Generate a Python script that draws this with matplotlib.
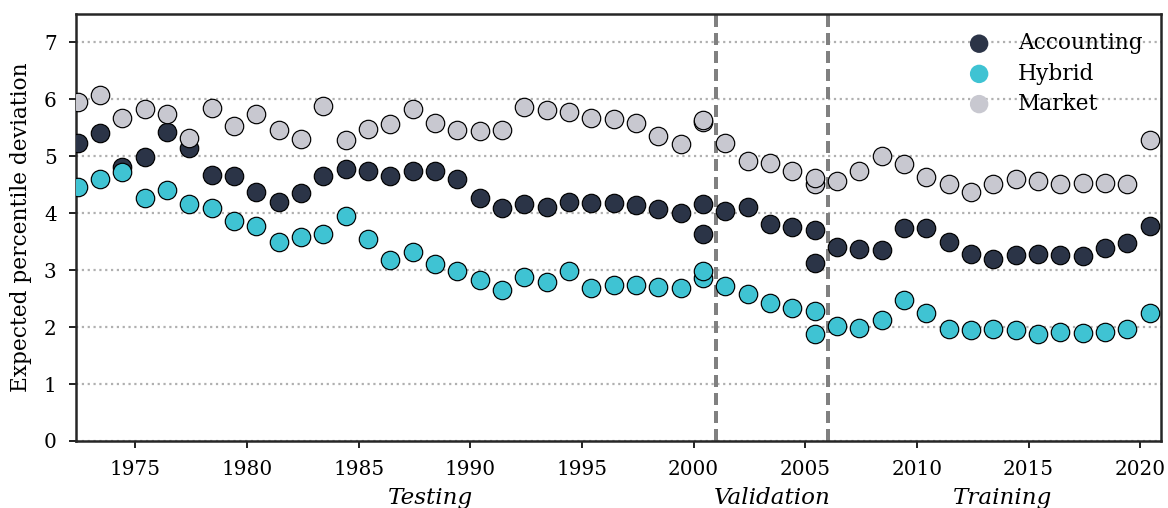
import matplotlib
matplotlib.use("Agg")
import matplotlib.pyplot as plt
import numpy as np

# ---- data ----
testing_years = list(range(1972, 2001))
validation_years = list(range(2000, 2006))
training_years = list(range(2005, 2021))
years = testing_years + validation_years + training_years

accounting = [5.23, 5.41, 4.82, 4.98, 5.43, 5.15, 4.67, 4.65, 4.37, 4.19,
              4.35, 4.66, 4.78, 4.74, 4.66, 4.75, 4.74, 4.60, 4.26, 4.09,
              4.16, 4.11, 4.20, 4.18, 4.18, 4.15, 4.08, 4.01, 4.16,
              3.64, 4.04, 4.11, 3.82, 3.76, 3.70,
              3.13, 3.41, 3.38, 3.36, 3.75, 3.75, 3.49, 3.29, 3.20, 3.27,
              3.29, 3.26, 3.25, 3.39, 3.47, 3.77]
hybrid = [4.46, 4.61, 4.72, 4.26, 4.41, 4.17, 4.09, 3.87, 3.77, 3.50,
          3.58, 3.63, 3.96, 3.55, 3.18, 3.32, 3.11, 2.99, 2.82, 2.66,
          2.88, 2.80, 2.98, 2.69, 2.74, 2.74, 2.70, 2.68, 2.87,
          2.98, 2.73, 2.58, 2.43, 2.33, 2.29,
          1.88, 2.02, 1.99, 2.13, 2.48, 2.24, 1.97, 1.95, 1.97, 1.95,
          1.88, 1.92, 1.89, 1.92, 1.97, 2.25]
market = [5.95, 6.08, 5.68, 5.84, 5.75, 5.32, 5.85, 5.53, 5.74, 5.46,
          5.31, 5.88, 5.29, 5.48, 5.56, 5.83, 5.59, 5.47, 5.44, 5.47,
          5.86, 5.82, 5.78, 5.68, 5.65, 5.58, 5.35, 5.22, 5.60,
          5.63, 5.23, 4.92, 4.88, 4.74, 4.52,
          4.62, 4.57, 4.75, 5.01, 4.86, 4.64, 4.51, 4.38, 4.52, 4.61,
          4.56, 4.51, 4.53, 4.54, 4.52, 5.29]

series_names = ["Accounting", "Hybrid", "Market"]
series_values = [accounting, hybrid, market]
series_colors = ["#2b3447", "#3fc3d3", "#c8c8d0"]

split_years = [2001, 2006]
section_labels = ["Testing", "Validation", "Training"]
section_label_x = [1988.2, 2003.5, 2013.85]
yticks = [0, 1, 2, 3, 4, 5, 6, 7]
xticks = [1975, 1980, 1985, 1990, 1995, 2000, 2005, 2010, 2015, 2020]
month_offset = 5 / 12  # observations placed within the year

# ---- plot ----
DPI = 144
plt.rcParams["font.family"] = ["DejaVu Serif"]
plt.rcParams["font.size"] = 10
fig = plt.figure(figsize=(1168 / DPI, 508 / DPI), dpi=DPI)
ax = fig.add_axes([75.7 / 1168, 1 - 441 / 508, (1161 - 75.7) / 1168, (441 - 14) / 508])

x = np.array(years) + month_offset
for name, vals, col in zip(series_names, series_values, series_colors):
    ax.scatter(x, vals, s=85, color=col, edgecolor="black", linewidth=0.6,
               label=name, zorder=3)

for sy in split_years:
    ax.axvline(sy, color="#808080", linestyle=(0, (3.0, 1.5)), linewidth=2.0, zorder=2)

ax.set_xlim(1972.33, 2020.93)
ax.set_ylim(0, 7.5)
ax.set_yticks(yticks)
ax.set_xticks(xticks)
ax.yaxis.grid(True, linestyle=":", color="#b0b0b0", linewidth=1.1, zorder=0)
ax.set_axisbelow(True)
ax.set_ylabel("Expected percentile deviation", fontsize=10.8, labelpad=6)

for sp in ax.spines.values():
    sp.set_linewidth(1.25)
    sp.set_color("#262626")
ax.tick_params(axis="both", length=3.5, width=1.0, color="#262626", labelsize=10, pad=6)

for lab, lx in zip(section_labels, section_label_x):
    ax.text(lx, -0.108, lab, transform=ax.get_xaxis_transform(), ha="center",
            va="top", fontsize=11.5, fontstyle="italic")

leg = ax.legend(loc="upper right", frameon=False, fontsize=10.8,
                labelspacing=0.38, borderaxespad=0.45)
for h in leg.legend_handles:
    h.set_edgecolor("none")

fig.savefig("out.png", dpi=DPI)
